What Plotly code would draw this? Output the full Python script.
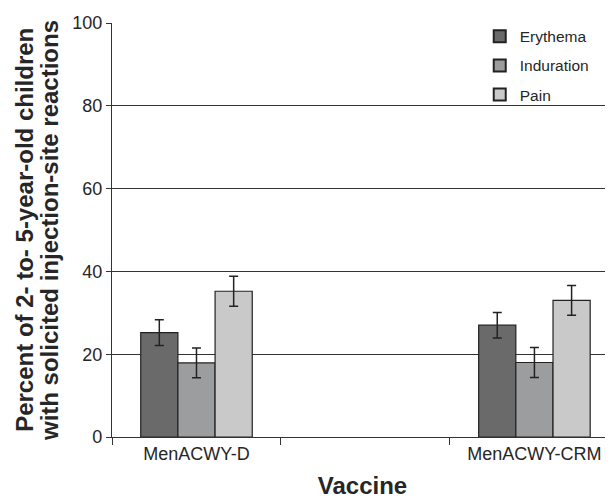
import plotly.graph_objects as go

categories = ["MenACWY-D", "MenACWY-CRM"]
cat_pos = [0, 2]
series_names = ["Erythema", "Induration", "Pain"]
erythema = [25.2, 27.0]
induration = [17.9, 18.0]
pain = [35.2, 33.0]
erythema_err = [3.1, 3.1]
induration_err = [3.6, 3.6]
pain_err = [3.6, 3.6]
y_ticks = [0, 20, 40, 60, 80, 100]
y_title_line1 = "Percent of 2- to- 5-year-old children"
y_title_line2 = "with solicited injection-site reactions"
x_title = "Vaccine"

colors = ["#6a6a6a", "#9c9d9f", "#c9c9ca"]
values = [erythema, induration, pain]
errors = [erythema_err, induration_err, pain_err]

fig = go.Figure()
for name, vals, errs, col in zip(series_names, values, errors, colors):
    fig.add_trace(go.Bar(
        x=cat_pos, y=vals, name=name, legendgroup=name,
        marker=dict(color=col, line=dict(color="#222222", width=1.2)),
        error_y=dict(type="data", array=errs, visible=True,
                     color="#222222", thickness=1.5, width=4.5),
    ))

# page has an 8px body margin; figure is sized so it fills the 613x499 window
font_family = "Liberation Sans, Arial, sans-serif"
fig.update_layout(
    width=605, height=491,
    margin=dict(l=104, r=0, t=15, b=62),
    paper_bgcolor="white", plot_bgcolor="white",
    barmode="group", bargap=0.67, bargroupgap=0,
    font=dict(family=font_family, color="#262626", size=18),
    showlegend=True,
    legend=dict(x=0.734, y=1.008, xanchor="left", yanchor="top",
                bgcolor="rgba(0,0,0,0)", font=dict(size=15.5, color="#262626"),
                tracegroupgap=6, itemsizing="constant", itemwidth=30),
    xaxis=dict(
        range=[-0.5, 2.465], automargin=False,
        tickmode="array", tickvals=cat_pos, ticktext=categories,
        ticks="", showgrid=False, zeroline=False,
        showline=True, linecolor="#333333", linewidth=1.2,
        tickfont=dict(size=18, color="#262626"),
        minor=dict(tickmode="array", tickvals=[-0.5, 0.5, 1.5], ticks="outside",
                   ticklen=7, tickcolor="#333333", tickwidth=1.2, showgrid=False),
        title=dict(text="<b>" + x_title + "</b>", font=dict(size=24, color="#262626"), standoff=16),
    ),
    yaxis=dict(
        range=[0, 100], automargin=False, tickmode="array", tickvals=y_ticks,
        ticks="outside", ticklen=5, tickcolor="#333333", tickwidth=1.2,
        showgrid=True, gridcolor="#333333", gridwidth=1,
        zeroline=False, showline=True, linecolor="#333333", linewidth=1.2,
        tickfont=dict(size=18, color="#262626"),
        title=dict(text="<b>" + y_title_line2 + "</b>",
                   font=dict(size=24, color="#262626"), standoff=6),
    ),
)
fig.add_annotation(
    text="<b>" + y_title_line1 + "</b>", textangle=-90,
    xref="paper", yref="paper", x=-0.176, y=0.5,
    xanchor="center", yanchor="middle", showarrow=False,
    font=dict(size=24, color="#262626", family=font_family),
)

fig.write_html("out.html")
